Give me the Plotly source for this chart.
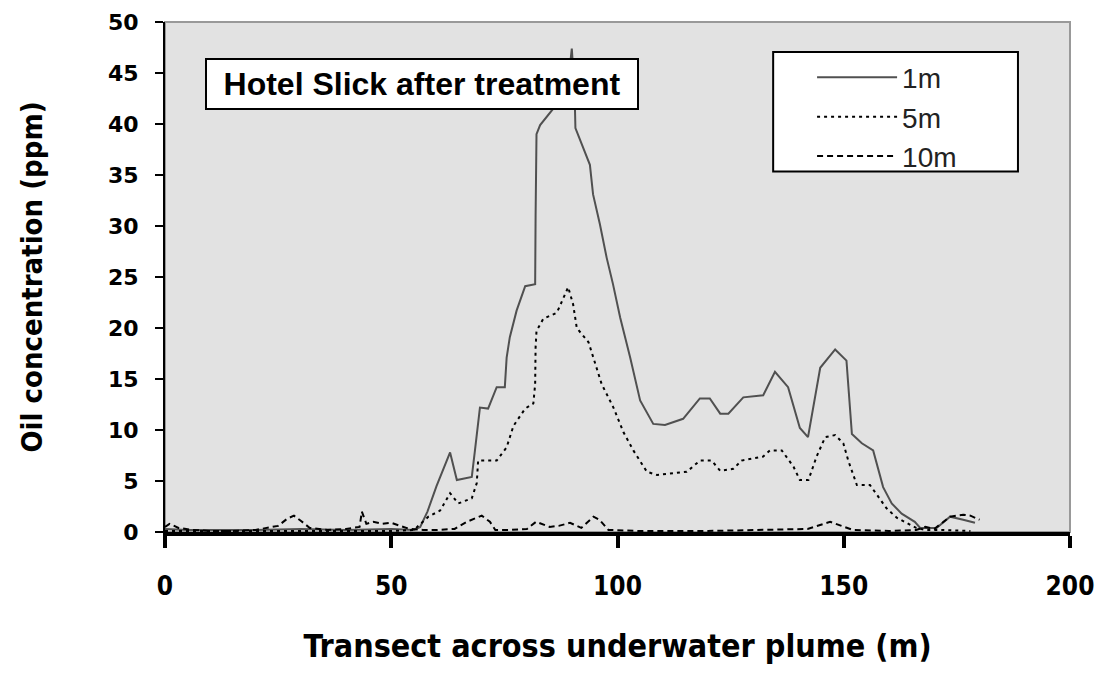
import plotly.graph_objects as go

# 1 m depth (solid)
x_1m = [0, 5, 10, 20, 30, 40, 50, 55, 56.4, 58, 60, 63, 64.5, 67.8, 68.5, 69.6, 71.4, 73.3, 75.1, 75.5, 76.2,
        77.7, 79.6, 81.8, 81.9, 82.1, 82.9, 85.8, 87.5, 89.2, 89.9, 90.4, 90.6, 90.7, 93.9, 94.6, 96.1, 97.6,
        99.0, 100.6, 102.8, 105.0, 107.9, 110.5, 114.5, 118.2, 120.4, 122.7, 124.5, 127.8, 132.2, 134.8,
        137.7, 140.3, 142.1, 144.8, 148.1, 150.6, 151.8, 154.0, 156.5, 158.7, 160.6, 162.8, 165.7, 166.9,
        170.5, 173.5, 176.4, 179.0]
y_1m = [0.3, 0.2, 0.2, 0.2, 0.3, 0.2, 0.3, 0.2, 0.5, 2.0, 4.5, 7.8, 5.1, 5.4, 8.0, 12.2, 12.1, 14.2, 14.2, 17.1, 19.1,
        21.7, 24.1, 24.3, 31.0, 39.0, 39.9, 41.5, 43.0, 44.5, 47.4, 44.0, 41.5, 39.6, 36.0, 33.1, 30.2, 26.9,
        24.3, 21.0, 17.1, 12.9, 10.6, 10.5, 11.1, 13.1, 13.1, 11.6, 11.6, 13.2, 13.4, 15.7,
        14.2, 10.2, 9.3, 16.1, 17.9, 16.8, 9.6, 8.7, 8.0, 4.4, 2.8, 1.8, 1.0, 0.4,
        0.4, 1.5, 1.2, 0.9]

# 5 m depth (dotted)
x_5m = [0, 10, 20, 30, 40, 50, 55, 58.2, 60.8, 63.0, 64.8, 67.8, 68.9, 69.2, 73.3, 75.5, 77.0, 79.6, 81.4, 81.8,
        81.9, 82.1, 83.6, 86.6, 89.1, 90.2, 91.0, 93.6, 96.5, 99.1, 101.3, 103.5, 106.5, 108.7, 115.3, 118.2,
        120.8, 122.7, 125.6, 127.4, 132.2, 133.7, 136.3, 138.9, 140.3, 142.2, 144.0, 145.9, 148.1, 149.9,
        151.0, 152.9, 155.8, 158.0, 159.5, 161.7, 163.9, 166.0, 168.0, 172.0, 178.0]
y_5m = [0.1, 0.1, 0.1, 0.1, 0.1, 0.1, 0.2, 1.5, 2.1, 3.8, 2.8, 3.3, 4.8, 7.0, 7.0, 8.3, 10.4, 12.1, 12.6, 14.5,
        18.1, 19.7, 20.9, 21.5, 24.0, 22.3, 20.0, 18.6, 14.5, 12.2, 9.8, 8.0, 5.9, 5.6, 5.9, 7.0,
        7.0, 6.0, 6.2, 7.0, 7.4, 8.0, 8.0, 6.4, 5.1, 5.1, 7.4, 9.3, 9.5, 8.7,
        7.0, 4.6, 4.6, 3.3, 2.3, 1.4, 0.9, 0.4, 0.2, 0.2, 0.1]

# 10 m depth (dashed)
x_10m = [0, 1, 3, 6, 10, 15, 20, 25, 27, 28.5, 30, 32, 36, 40, 43, 43.5, 44.5, 46, 48, 50, 52, 54, 57, 60, 64,
         66.7, 70, 71.8, 73, 76, 80, 82, 85, 87, 89.5, 92, 94.7, 96, 98, 105, 120, 135, 142, 147, 149, 152,
         160, 166, 168, 170, 173.5, 176.4, 178, 180]
y_10m = [0.5, 0.8, 0.4, 0.2, 0.1, 0.1, 0.2, 0.6, 1.3, 1.6, 1.1, 0.4, 0.2, 0.3, 0.5, 2.0, 0.8, 1.0, 0.8, 0.9, 0.6,
         0.3, 0.2, 0.2, 0.3, 1.0, 1.6, 1.0, 0.2, 0.2, 0.3, 1.0, 0.5, 0.6, 0.9, 0.4, 1.5, 1.2, 0.2, 0.1, 0.1,
         0.2, 0.3, 1.0, 0.7, 0.2, 0.1, 0.2, 0.5, 0.3, 1.5, 1.7, 1.6, 1.2]

x_ticks = [0, 50, 100, 150, 200]
y_ticks = [0, 5, 10, 15, 20, 25, 30, 35, 40, 45, 50]

fig = go.Figure()
fig.add_trace(go.Scatter(x=x_1m, y=y_1m, mode="lines", name="1m",
                         line=dict(color="#505050", width=2)))
fig.add_trace(go.Scatter(x=x_5m, y=y_5m, mode="lines", name="5m",
                         line=dict(color="black", width=2, dash="3px,4px")))
fig.add_trace(go.Scatter(x=x_10m, y=y_10m, mode="lines", name="10m",
                         line=dict(color="black", width=2, dash="6px,4px")))

tickfont_y = dict(family="DejaVu Sans", size=22, color="black", weight="bold")
tickfont_x = dict(family="DejaVu Sans Condensed", size=26, color="black", weight="bold")
xtitlefont = dict(family="DejaVu Sans Condensed", size=32, color="black", weight="bold")
ytitlefont = dict(family="DejaVu Sans Condensed", size=29, color="black", weight="bold")

fig.update_layout(
    width=1087, height=657,
    margin=dict(l=157, r=25, t=14, b=133),
    paper_bgcolor="white",
    plot_bgcolor="#e2e2e2",
    showlegend=True,
    legend=dict(x=0.715, y=0.94, xanchor="left", yanchor="top",
                bgcolor="rgba(0,0,0,0)", borderwidth=0,
                font=dict(family="Liberation Sans", size=28, color="#222"),
                itemwidth=80, tracegroupgap=0),
    xaxis=dict(range=[0, 200], tickvals=x_ticks, showgrid=False, zeroline=False, automargin=False,
               showline=True, linecolor="black", linewidth=4,
               ticks="outside", ticklen=12, tickwidth=4, tickcolor="black",
               tickfont=tickfont_x, ticklabelstandoff=16, ticklabeloverflow="allow",
               title=dict(text="Transect across underwater plume (m)", font=xtitlefont, standoff=42)),
    yaxis=dict(range=[0, 50], tickvals=y_ticks, showgrid=False, zeroline=False, automargin=False,
               showline=True, linecolor="black", linewidth=2,
               ticks="outside", ticklen=8, tickwidth=2, tickcolor="black",
               tickfont=tickfont_y, ticklabelstandoff=12, ticklabeloverflow="allow",
               title=dict(text="Oil concentration (ppm)", font=ytitlefont, standoff=57)),
    shapes=[dict(type="rect", xref="paper", yref="paper", x0=0, x1=1, y0=0, y1=1,
                 line=dict(color="#999999", width=2), layer="below"),
            dict(type="rect", xref="paper", yref="paper", x0=0.672, x1=0.9425, y0=0.707, y1=0.941,
                 fillcolor="white", line=dict(color="black", width=2), layer="below")],
    annotations=[dict(x=56.7, y=43.9, xref="x", yref="y", showarrow=False,
                      text="Hotel Slick after treatment",
                      font=dict(family="Liberation Sans", size=32, color="black", weight="bold"),
                      bgcolor="white", bordercolor="black", borderwidth=2,
                      width=428, height=46)],
)

fig.write_html("out.html")
